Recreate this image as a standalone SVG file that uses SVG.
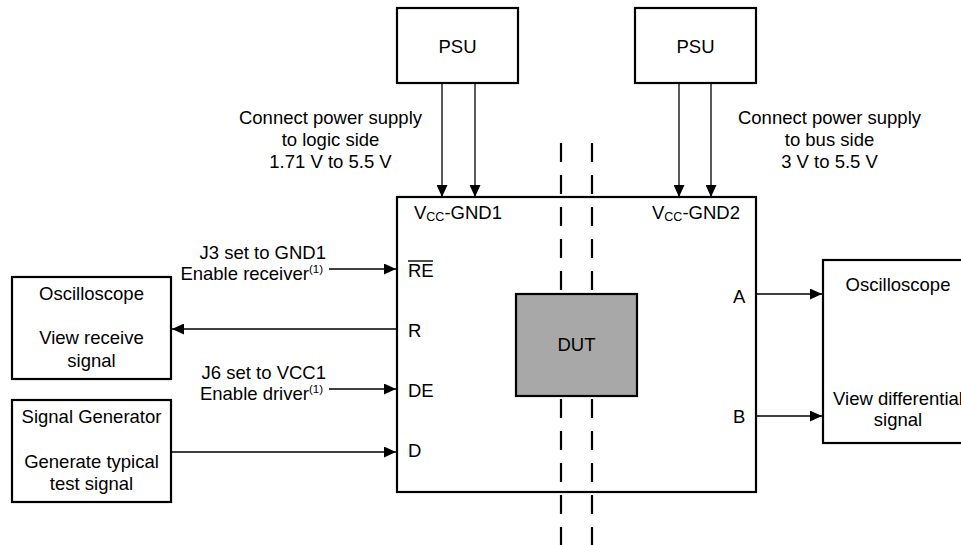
<svg xmlns="http://www.w3.org/2000/svg" width="961" height="545" viewBox="0 0 961 545">
<style>
text{font-family:"Liberation Sans",Arial,sans-serif;font-size:18.5px;fill:#000}
.c{text-anchor:middle}
.e{text-anchor:end}
.box{fill:#fff;stroke:#000;stroke-width:2.2}
.con{stroke:#000;stroke-width:1.3;fill:none}
.dash{stroke:#000;stroke-width:2.2;stroke-dasharray:19 13;fill:none}
.sup{font-size:11.5px}
.sub{font-size:12.5px}
</style>
<defs>
<marker id="ah" markerUnits="userSpaceOnUse" markerWidth="12" markerHeight="11" refX="12" refY="5.5" orient="auto">
<path d="M0,0 L12,5.5 L0,11 z" fill="#000"/>
</marker>
</defs>

<g id="main">
<rect class="box" x="397" y="197" width="359" height="295" stroke-width="2.5"/>
<text x="414" y="219">V<tspan class="sub" dy="2">CC</tspan><tspan dy="-2">-GND1</tspan></text>
<text x="652" y="219">V<tspan class="sub" dy="2">CC</tspan><tspan dy="-2">-GND2</tspan></text>
<text x="408" y="277">RE</text>
<line x1="408" y1="261" x2="433" y2="261" stroke="#000" stroke-width="1.4"/>
<text x="408" y="337">R</text>
<text x="408" y="397">DE</text>
<text x="408" y="457">D</text>
<text x="733" y="303">A</text>
<text x="733" y="423">B</text>
</g>

<g id="isolation">
<line class="dash" x1="561" y1="143" x2="561" y2="545"/>
<line class="dash" x1="592" y1="143" x2="592" y2="545"/>
</g>

<g id="dut">
<rect x="516" y="294" width="121" height="102" fill="#a8a8a8" stroke="#000" stroke-width="2.2"/>
<text class="c" x="576.5" y="351">DUT</text>
</g>

<g id="psu1">
<rect class="box" x="397" y="8" width="121" height="75"/>
<text class="c" x="457.5" y="53">PSU</text>
</g>
<g id="psu2">
<rect class="box" x="635" y="8" width="121" height="75"/>
<text class="c" x="695.5" y="53">PSU</text>
</g>

<g id="osc-left">
<rect class="box" x="12" y="277" width="159" height="102"/>
<text class="c" x="91.5" y="300">Oscilloscope</text>
<text class="c" x="91.5" y="344">View receive</text>
<text class="c" x="91.5" y="367">signal</text>
</g>

<g id="siggen">
<rect class="box" x="12" y="400" width="159" height="102"/>
<text class="c" x="91.5" y="423">Signal Generator</text>
<text class="c" x="91.5" y="468">Generate typical</text>
<text class="c" x="91.5" y="490">test signal</text>
</g>

<g id="osc-right">
<rect class="box" x="823" y="260" width="150" height="183"/>
<text class="c" x="898" y="291">Oscilloscope</text>
<text class="c" x="898" y="405">View differential</text>
<text class="c" x="898" y="426">signal</text>
</g>

<g id="labels">
<text class="c" x="330.5" y="124">Connect power supply</text>
<text class="c" x="330.5" y="146">to logic side</text>
<text class="c" x="330.5" y="168">1.71 V to 5.5 V</text>
<text class="c" x="829.5" y="124">Connect power supply</text>
<text class="c" x="829.5" y="146">to bus side</text>
<text class="c" x="829.5" y="168">3 V to 5.5 V</text>
<text class="e" x="326" y="259">J3 set to GND1</text>
<text class="e" x="323" y="280">Enable receiver<tspan class="sup" dy="-7">(1)</tspan></text>
<text class="e" x="326" y="379">J6 set to VCC1</text>
<text class="e" x="323" y="400">Enable driver<tspan class="sup" dy="-7">(1)</tspan></text>
</g>

<g id="connectors">
<line class="con" x1="442" y1="83" x2="442" y2="197" marker-end="url(#ah)"/>
<line class="con" x1="475" y1="83" x2="475" y2="197" marker-end="url(#ah)"/>
<line class="con" x1="679" y1="83" x2="679" y2="197" marker-end="url(#ah)"/>
<line class="con" x1="711" y1="83" x2="711" y2="197" marker-end="url(#ah)"/>
<line class="con" x1="329" y1="269" x2="396" y2="269" marker-end="url(#ah)"/>
<line class="con" x1="397" y1="329" x2="172" y2="329" marker-end="url(#ah)"/>
<line class="con" x1="329" y1="389" x2="396" y2="389" marker-end="url(#ah)"/>
<line class="con" x1="172" y1="452" x2="396" y2="452" marker-end="url(#ah)"/>
<line class="con" x1="757" y1="294" x2="822" y2="294" marker-end="url(#ah)"/>
<line class="con" x1="757" y1="416" x2="822" y2="416" marker-end="url(#ah)"/>
</g>
</svg>
